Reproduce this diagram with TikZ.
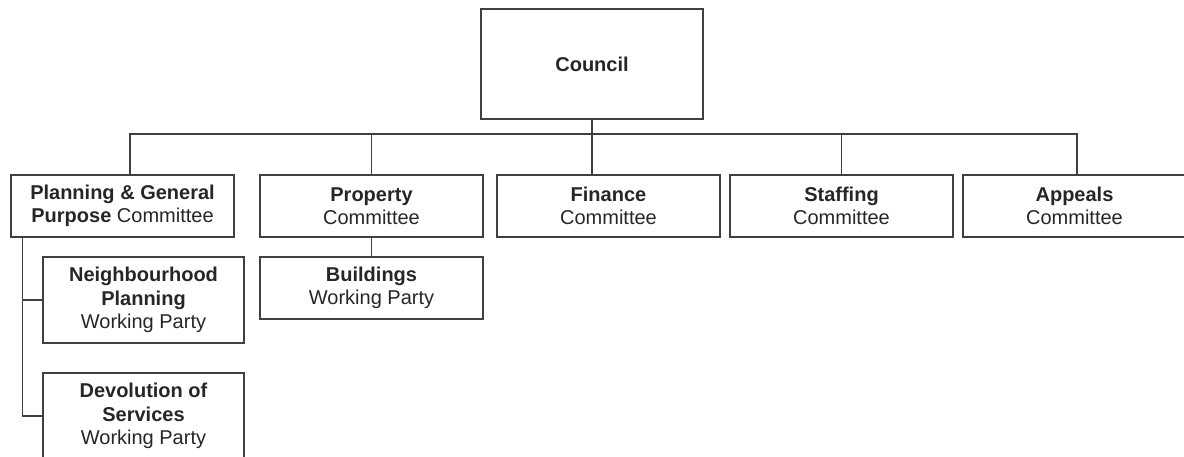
\documentclass[tikz,border=0pt]{standalone}
\usepackage{fontspec}
\setmainfont{Liberation Sans}
\usetikzlibrary{positioning}
\tikzset{
  box/.style={draw=black!75,line width=1.3pt,text=black!85,align=center,inner sep=0pt,
    minimum width=223pt,minimum height=62pt,font=\fontsize{20}{23.5}\selectfont},
  wpbox/.style={box,minimum width=201pt,minimum height=86pt},
  link/.style={draw=black!75,line width=1.3pt}
}

\begin{document}
\begin{tikzpicture}[x=1pt,y=-1pt]

  \useasboundingbox (0,0) rectangle (1184,457);
  \clip (0,0) rectangle (1184,457);

  \node[box,minimum width=222pt,minimum height=110pt] (council) at (592,64) {\textbf{Council}};

  \node[box] (planning) at (122.5,206) {\textbf{Planning \& General}\\\textbf{Purpose} Committee};
  \node[box] (property) at (371.5,206) {\textbf{Property}\\Committee};
  \node[box] (finance) at (608.5,206) {\textbf{Finance}\\Committee};
  \node[box] (staffing) at (841.5,206) {\textbf{Staffing}\\Committee};
  \node[box] (appeals) at (1074.5,206) {\textbf{Appeals}\\Committee};

  \node[box] (buildings) at (371.5,288) {\textbf{Buildings}\\Working Party};
  \node[wpbox] (neighbourhood) at (143.5,300) {\textbf{Neighbourhood}\\\textbf{Planning}\\Working Party};
  \node[wpbox] (devolution) at (143.5,416) {\textbf{Devolution of}\\\textbf{Services}\\Working Party};

  \coordinate (bus) at (0,134);
  \coordinate (spine) at ([xshift=12pt]planning.south west);

  \draw[link] (council.south) -- (council.south |- finance.north);
  \draw[link] ([xshift=7.5pt]planning.north) |- ([xshift=2.5pt]appeals.north |- bus) -- ([xshift=2.5pt]appeals.north);
  \draw[link] (property.north) -- (property.north |- bus);
  \draw[link] (staffing.north) -- (staffing.north |- bus);

  \draw[link] (property.south) -- (buildings.north);
  \draw[link] (spine) |- (devolution.west);
  \draw[link] (spine |- neighbourhood.west) -- (neighbourhood.west);

\end{tikzpicture}
\end{document}
